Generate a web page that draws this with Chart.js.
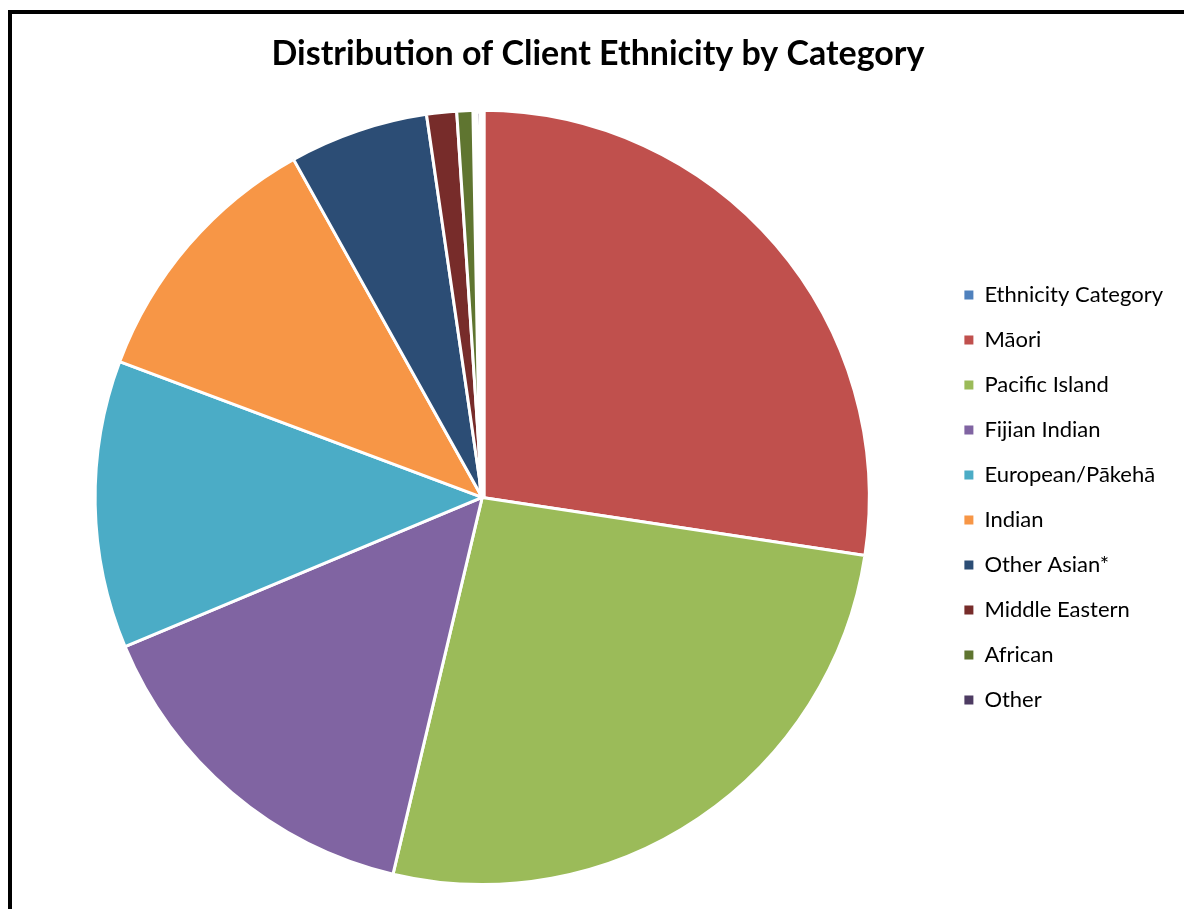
<!DOCTYPE html>
<html>
<head>
<meta charset="utf-8">
<script src="https://cdn.jsdelivr.net/npm/chart.js@4.4.0/dist/chart.umd.min.js"></script>
<style>
	html, body { margin: 0; padding: 0; background: #fff; overflow: hidden; }
	#wrap { position: absolute; left: 0; top: 0; width: 1184px; height: 909px; }
	#frame { position: absolute; left: 8px; top: 10px; width: 1300px; height: 1000px;
		border-left: 4px solid #000; border-top: 4px solid #000; pointer-events: none; }
</style>
</head>
<body>
<div id="wrap"><canvas id="pieCanvas" width="1184" height="909"></canvas></div>
<div id="frame"></div>
<script>
// categories and share of clients (%)
var categories = ['Ethnicity Category', 'Māori', 'Pacific Island', 'Fijian Indian', 'European/Pākehā',
	'Indian', 'Other Asian*', 'Middle Eastern', 'African', 'Other'];
var share = [0, 27.4, 26.3, 15.0, 12.0, 11.2, 5.8, 1.25, 0.75, 0.3];
var colors = ['#4F81BD', '#C0504D', '#9BBB59', '#8064A2', '#4BACC6',
	'#F79646', '#2C4D75', '#772C2A', '#5F7530', '#4D3B62'];

var chartdata = {
	labels: categories,
	datasets: [
		{
			data: share,
			backgroundColor: colors,
			borderColor: '#fff',
			// the tiny 'Other' slice disappears under its white edge
			borderWidth: [3, 3, 3, 3, 3, 3, 3, 3, 3, 7]
		}
	]
};

var ctx = document.getElementById('pieCanvas');
var pieGraph = new Chart(ctx, {
	type: 'pie',
	data: chartdata,
	options: {
		responsive: false,
		animation: false,
		layout: { padding: { left: 23, right: 11, top: 0, bottom: 21 } },
		plugins: {
			title: {
				display: true,
				text: 'Distribution of Client Ethnicity by Category',
				color: '#000',
				font: { family: 'Lato', size: 34, weight: 'bold' },
				padding: { top: 34, bottom: 32 }
			},
			legend: {
				position: 'right',
				fullSize: false,
				labels: {
					color: '#000',
					font: { family: 'Lato', size: 22 },
					boxWidth: 9,
					boxHeight: 9,
					padding: 23,
					// plain filled squares, no white edge
					generateLabels: function(chart) {
						var items = Chart.overrides.pie.plugins.legend.labels.generateLabels(chart);
						items.forEach(function(it) { it.lineWidth = 0; });
						return items;
					}
				}
			},
			tooltip: { enabled: false }
		}
	}
});
</script>
</body>
</html>
